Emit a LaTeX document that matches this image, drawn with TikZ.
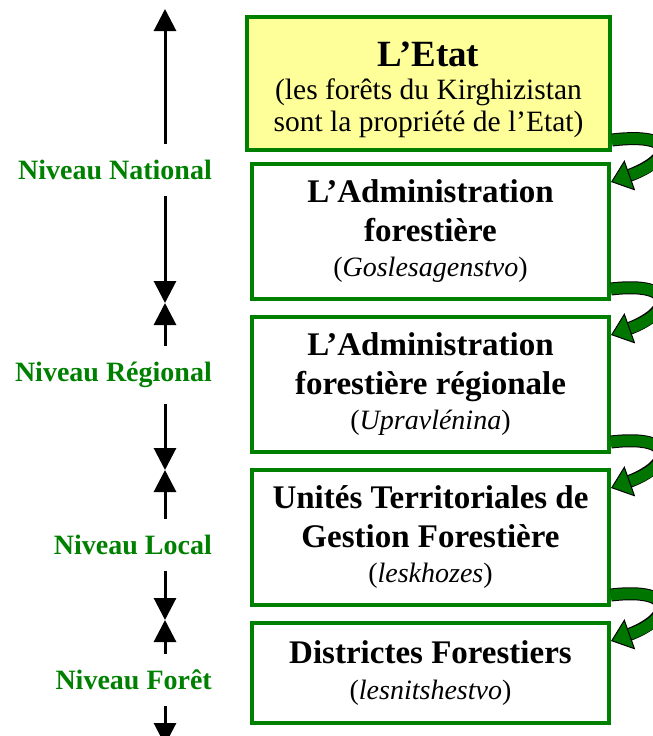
\documentclass[tikz,border=0pt]{standalone}
\usepackage{fontspec}
\setmainfont{Liberation Serif}
\usetikzlibrary{arrows.meta}
\definecolor{lvlgreen}{RGB}{0,128,0}
\definecolor{arrgreen}{RGB}{0,118,0}
\definecolor{etatyellow}{RGB}{255,255,153}
\newcommand{\subt}[1]{{\fontsize{28}{34}\selectfont\mdseries #1}}

\begin{document}
\begin{tikzpicture}[x=1pt,y=-1pt,
  box/.style={rectangle,draw=lvlgreen,line width=4pt,minimum width=357pt,minimum height=135pt,
    align=center,inner sep=0pt,font=\fontsize{33}{39}\selectfont\bfseries},
  level/.style={anchor=east,inner xsep=0pt,inner ysep=16pt,text=lvlgreen,
    font=\fontsize{28}{32}\selectfont\bfseries},
  levarrow/.style={line width=3pt,-{Triangle[length=22pt,width=22pt]}},
  turn/.style={line width=11pt,draw=arrgreen,
    -{Triangle[length=20pt,width=32pt,line width=1pt,color=black,fill=arrgreen]},
    preaction={draw=black,line width=13pt,-,shorten >=16pt}}]
\useasboundingbox (0,0) rectangle (653,736);

% the boxes
\path (428.5,83.5) node[box,fill=etatyellow,minimum width=363pt,minimum height=133pt] (etat)
  {\rule{0pt}{38pt}{\fontsize{37}{40}\selectfont L’Etat}\\[-6pt]
   {\fontsize{29.5}{34}\selectfont\mdseries (les forêts du Kirghizistan}\\[-7pt]
   {\fontsize{29.5}{34}\selectfont\mdseries sont la propriété de l’Etat)}};
\path (430.5,231.5) node[box] (adm) {L’Administration\\forestière\\[-4pt]\subt{(\textit{Goslesagenstvo})}};
\path (430.5,384.5) node[box] (reg) {L’Administration\\forestière régionale\\[-4pt]\subt{(\textit{Upravlénina})}};
\path (430.5,537.5) node[box] (ter) {Unités Territoriales de\\Gestion Forestière\\[-4pt]\subt{(\textit{leskhozes})}};
\path (430.5,673) node[box,minimum height=100pt] (dis) {Districtes Forestiers\\[-3pt]\subt{(\textit{lesnitshestvo})}};

% curved arrows down the right side
\draw[turn] ([yshift=12pt]etat.south east) .. controls +(68,-8) and +(62,-22) .. ([yshift=-20pt]adm.north east);
\draw[turn] ([yshift=12pt]adm.south east) .. controls +(68,-8) and +(62,-22) .. ([yshift=-20pt]reg.north east);
\draw[turn] ([yshift=12pt]reg.south east) .. controls +(68,-8) and +(62,-22) .. ([yshift=-20pt]ter.north east);
\draw[turn] ([yshift=12pt]ter.south east) .. controls +(68,-8) and +(62,-22) .. ([yshift=-20pt]dis.north east);

% levels
\path (212,170) node[level] (nat) {Niveau National};
\path (212,375) node[level] (rgl) {Niveau Régional};
\path (212,545) node[level] (loc) {Niveau Local};
\path (212,680) node[level] (for) {Niveau Forêt};
\coordinate (t0) at (165,9);
\coordinate (t1) at (165,303);
\coordinate (t2) at (165,470);
\coordinate (t3) at (165,620);
\coordinate (t4) at (165,745);
\draw[levarrow] (nat.north -| t0) -- (t0);
\draw[levarrow] (nat.south -| t0) -- (t1);
\draw[levarrow] (rgl.north -| t0) -- (t1);
\draw[levarrow] (rgl.south -| t0) -- (t2);
\draw[levarrow] (loc.north -| t0) -- (t2);
\draw[levarrow] (loc.south -| t0) -- (t3);
\draw[levarrow] (for.north -| t0) -- (t3);
\draw[levarrow] (for.south -| t0) -- (t4);

\end{tikzpicture}
\end{document}
